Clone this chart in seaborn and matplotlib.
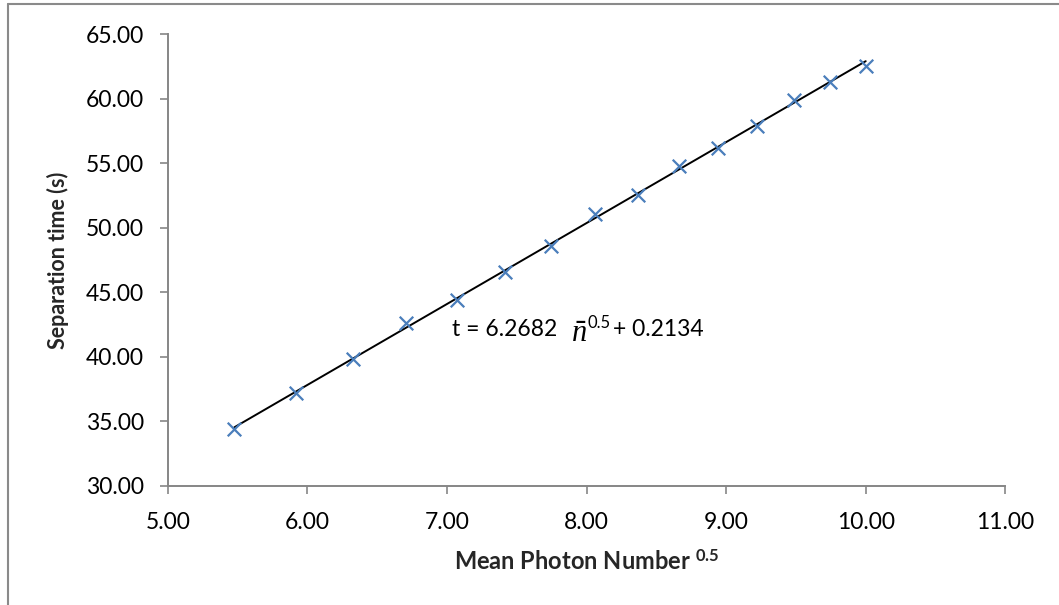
import matplotlib
matplotlib.use("Agg")
import matplotlib.pyplot as plt
from matplotlib.lines import Line2D
import seaborn as sns
import pandas as pd

# Square root of the mean photon number and the measured separation time
sqrt_photon = [5.477, 5.916, 6.325, 6.708, 7.071, 7.416, 7.746, 8.062,
               8.367, 8.660, 8.944, 9.220, 9.487, 9.747, 10.000]
sep_time = [34.4, 37.2, 39.8, 42.6, 44.4, 46.6, 48.6, 51.1,
            52.5, 54.8, 56.2, 57.9, 59.9, 61.3, 62.5]

# Linear fit reported on the chart
slope = 6.2682
intercept = 0.2134

x_ticks = [5, 6, 7, 8, 9, 10, 11]
y_ticks = [30, 35, 40, 45, 50, 55, 60, 65]

sns.set_theme(style="white")
plt.rcParams["font.family"] = ["Lato", "DejaVu Sans"]
plt.rcParams["mathtext.fontset"] = "custom"
plt.rcParams["mathtext.rm"] = "Lato"
plt.rcParams["mathtext.bf"] = "Lato:bold"
plt.rcParams["mathtext.it"] = "Liberation Serif:italic"

df = pd.DataFrame({"x": sqrt_photon, "t": sep_time})
x_fit = [min(sqrt_photon), max(sqrt_photon)]
fit = pd.DataFrame({"x": x_fit, "t": [slope * v + intercept for v in x_fit]})

fig = plt.figure(figsize=(10.59, 6.05), dpi=100)
ax = fig.add_axes([0.1584, 0.1967, 0.9493 - 0.1584, 0.9438 - 0.1967])

sns.lineplot(data=fit, x="x", y="t", ax=ax, color="black", linewidth=1.4)
sns.scatterplot(data=df, x="x", y="t", ax=ax, marker="x", s=95,
                color="#4A7EBB", linewidth=1.6, zorder=3)

ax.set_xlim(5, 11)
ax.set_ylim(30, 65)
ax.set_xticks(x_ticks)
ax.set_yticks(y_ticks)
ax.set_xticklabels([f"{v:.2f}" for v in x_ticks])
ax.set_yticklabels([f"{v:.2f}" for v in y_ticks])
ax.tick_params(axis="both", which="both", length=6, width=1.2,
               color="#868686", labelsize=16.5, labelcolor="black",
               direction="out", bottom=True, left=True)
ax.tick_params(axis="x", pad=13)
ax.tick_params(axis="y", pad=11)

for side in ("top", "right"):
    ax.spines[side].set_visible(False)
for side in ("left", "bottom"):
    ax.spines[side].set_color("#868686")
    ax.spines[side].set_linewidth(1.4)

ax.set_xlabel(r"Mean Photon Number $^{\mathbf{0.5}}$", fontsize=17,
              fontweight="bold")
ax.set_ylabel("Separation time (s)", fontsize=15.5, fontweight="bold")
ax.xaxis.set_label_coords(0.5, -0.140)
ax.yaxis.set_label_coords(-0.118, 0.5)

# Fit equation, built from pieces so the n-bar can be set larger
eq_size = 16.5
t1 = ax.text(7.036, 41.6, f"t = {slope:.4f}", fontsize=eq_size,
             ha="left", va="baseline", color="black")
t2 = ax.annotate(r"$\bar{n}$", xy=(1, 0), xycoords=t1, xytext=(10, -5),
                 textcoords="offset points", fontsize=22,
                 ha="left", va="bottom", color="black")
t3 = ax.annotate("0.5", xy=(1, 1), xycoords=t2, xytext=(0, 3),
                 textcoords="offset points", fontsize=12,
                 ha="left", va="top", color="black")
ax.annotate(f"+ {intercept:.4f}", xy=(1, 0), xycoords=(t3, t1),
            xytext=(2, 0), textcoords="offset points", fontsize=eq_size,
            ha="left", va="bottom", color="black")

# Outer chart frame
fig.add_artist(Line2D([8 / 1059, 8 / 1059], [0, 1 - 4 / 605],
                      transform=fig.transFigure, color="#8a8a8a", lw=1.5))
fig.add_artist(Line2D([8 / 1059, 1], [1 - 4 / 605, 1 - 4 / 605],
                      transform=fig.transFigure, color="#8a8a8a", lw=1.5))

fig.savefig("out.png", dpi=100)
